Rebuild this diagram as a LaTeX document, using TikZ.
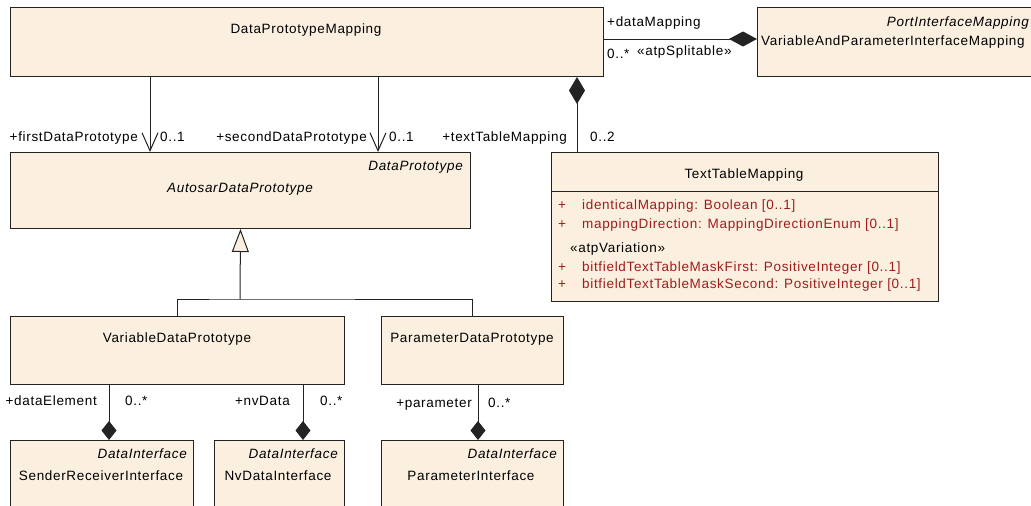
\documentclass[tikz,border=0pt]{standalone}
\usepackage{fontspec}
\setmainfont{Liberation Sans}[LetterSpace=5]
\usetikzlibrary{arrows.meta,calc}
\definecolor{clsfill}{RGB}{251,240,224}
\definecolor{attrred}{RGB}{160,28,28}
\definecolor{edgecol}{RGB}{35,35,35}
\newcommand{\umlfont}{\fontsize{13.5}{15}\selectfont}
\begin{document}
\begin{tikzpicture}[x=1pt,y=-1pt,font=\umlfont]
\tikzset{
  cls/.style={draw=edgecol, fill=clsfill, line width=1pt, inner sep=0pt, anchor=north west, rectangle},
  lbl/.style={inner sep=0pt, anchor=base},
  lbll/.style={inner sep=0pt, anchor=base west},
  lblr/.style={inner sep=0pt, anchor=base east},
  attr/.style={inner sep=0pt, anchor=base west, text=attrred},
  conn/.style={draw=edgecol, line width=1pt},
  compbig/.style={conn, {Diamond[length=27pt,width=16pt]}-},
  compend/.style={conn, -{Diamond[length=28pt,width=15pt]}},
  compsmall/.style={conn, -{Diamond[length=19pt,width=15pt]}},
  assocopen/.style={conn, -{Straight Barb[length=18pt,width=16pt]}},
  general/.style={conn, -{Triangle[open,length=23pt,width=17pt,fill=clsfill]}},
}
\useasboundingbox (0,0) rectangle (1031,506);

% boxes
\node[cls, minimum width=593pt, minimum height=69pt] (dpm) at (10,7) {};
\node[cls, minimum width=282pt, minimum height=69pt] (vapim) at (757,7) {};
\node[cls, minimum width=460pt, minimum height=76pt] (adp) at (10,152) {};
\node[cls, minimum width=387pt, minimum height=149pt] (ttm) at (551,152) {};
\node[cls, minimum width=334pt, minimum height=68pt] (vdp) at (10,316) {};
\node[cls, minimum width=182pt, minimum height=68pt] (pdp) at (381,316) {};
\node[cls, minimum width=183pt, minimum height=80pt] (sri) at (10,440) {};
\node[cls, minimum width=130pt, minimum height=80pt] (ndi) at (214,440) {};
\node[cls, minimum width=182pt, minimum height=80pt] (pif) at (381,440) {};

\draw[draw=edgecol, line width=1pt] ($(ttm.north west)+(0,39)$) -- ($(ttm.north east)+(0,39)$);

% box texts
\node[lbl] (t-dpm) at (306,34) {DataPrototypeMapping};
\node[lblr] (s-vapim) at (1029,27) {\itshape PortInterfaceMapping};
\node[lbll] (t-vapim) at (761,45) {VariableAndParameterInterfaceMapping};
\node[lblr] (s-adp) at (463,170) {\itshape DataPrototype};
\node[lbl] (t-adp) at (240,192) {\itshape AutosarDataPrototype};
\node[lbl] (t-ttm) at (744,178) {TextTableMapping};
\node[attr, anchor=base] (p1) at (562,209) {+};
\node[attr] (a1) at (582,209) {identicalMapping: Boolean [0..1]};
\node[attr, anchor=base] (p2) at (562,228) {+};
\node[attr] (a2) at (582,228) {mappingDirection: MappingDirectionEnum [0..1]};
\node[lbll] (st-ttm) at (570,252) {«atpVariation»};
\node[attr, anchor=base] (p3) at (562,271) {+};
\node[attr] (a3) at (582,271) {bitfieldTextTableMaskFirst: PositiveInteger [0..1]};
\node[attr, anchor=base] (p4) at (562,288) {+};
\node[attr] (a4) at (582,288) {bitfieldTextTableMaskSecond: PositiveInteger [0..1]};
\node[lbl] (t-vdp) at (177,342) {VariableDataPrototype};
\node[lbl] (t-pdp) at (472,342) {ParameterDataPrototype};
\node[lblr] (s-sri) at (187,458) {\itshape DataInterface};
\node[lbl] (t-sri) at (101,480) {SenderReceiverInterface};
\node[lblr] (s-ndi) at (338,458) {\itshape DataInterface};
\node[lbl] (t-ndi) at (278,480) {NvDataInterface};
\node[lblr] (s-pif) at (557,458) {\itshape DataInterface};
\node[lbl] (t-pif) at (471,480) {ParameterInterface};

% connector x positions
\coordinate (xa) at (150,0);
\coordinate (xb) at (378,0);
\coordinate (xc) at (577,0);
\coordinate (ym) at (0,39);
\coordinate (gj) at (240,299);
\coordinate (xd) at (109,0);
\coordinate (xe) at (303,0);
\coordinate (xf) at (478,0);

% associations DataPrototypeMapping -> AutosarDataPrototype
\draw[assocopen] (dpm.south -| xa) -- (adp.north -| xa);
\draw[assocopen] (dpm.south -| xb) -- (adp.north -| xb);
\node[lblr] (l-first) at (138,141) {+firstDataPrototype};
\node[lbll] (m-first) at (160,141) {0..1};
\node[lblr] (l-second) at (367,141) {+secondDataPrototype};
\node[lbll] (m-second) at (389,141) {0..1};

% composition DataPrototypeMapping -> TextTableMapping
\draw[compbig] (dpm.south -| xc) -- (ttm.north -| xc);
\node[lblr] (l-ttm) at (567,141) {+textTableMapping};
\node[lbll] (m-ttm) at (590,141) {0..2};

% composition VariableAndParameterInterfaceMapping -> DataPrototypeMapping
\draw[compend] (dpm.east |- ym) -- (vapim.west |- ym);
\node[lbll] (l-dm) at (607,27) {+dataMapping};
\node[lbll] (m-dm) at (607,58) {0..*};
\node[lbll] (st-dm) at (637,55) {«atpSplitable»};

% generalization
\draw[conn] (vdp.north) |- (gj) -| (pdp.north);
\draw[general] (gj) -- (adp.south);

% compositions to interfaces
\draw[compsmall] (vdp.south -| xd) -- (sri.north -| xd);
\node[lblr] (l-de) at (97,405) {+dataElement};
\node[lbll] (m-de) at (125,405) {0..*};
\draw[compsmall] (vdp.south -| xe) -- (ndi.north -| xe);
\node[lblr] (l-nv) at (290,405) {+nvData};
\node[lbll] (m-nv) at (320,405) {0..*};
\draw[compsmall] (pdp.south -| xf) -- (pif.north -| xf);
\node[lblr] (l-par) at (472,407) {+parameter};
\node[lbll] (m-par) at (488,407) {0..*};
\end{tikzpicture}
\end{document}
